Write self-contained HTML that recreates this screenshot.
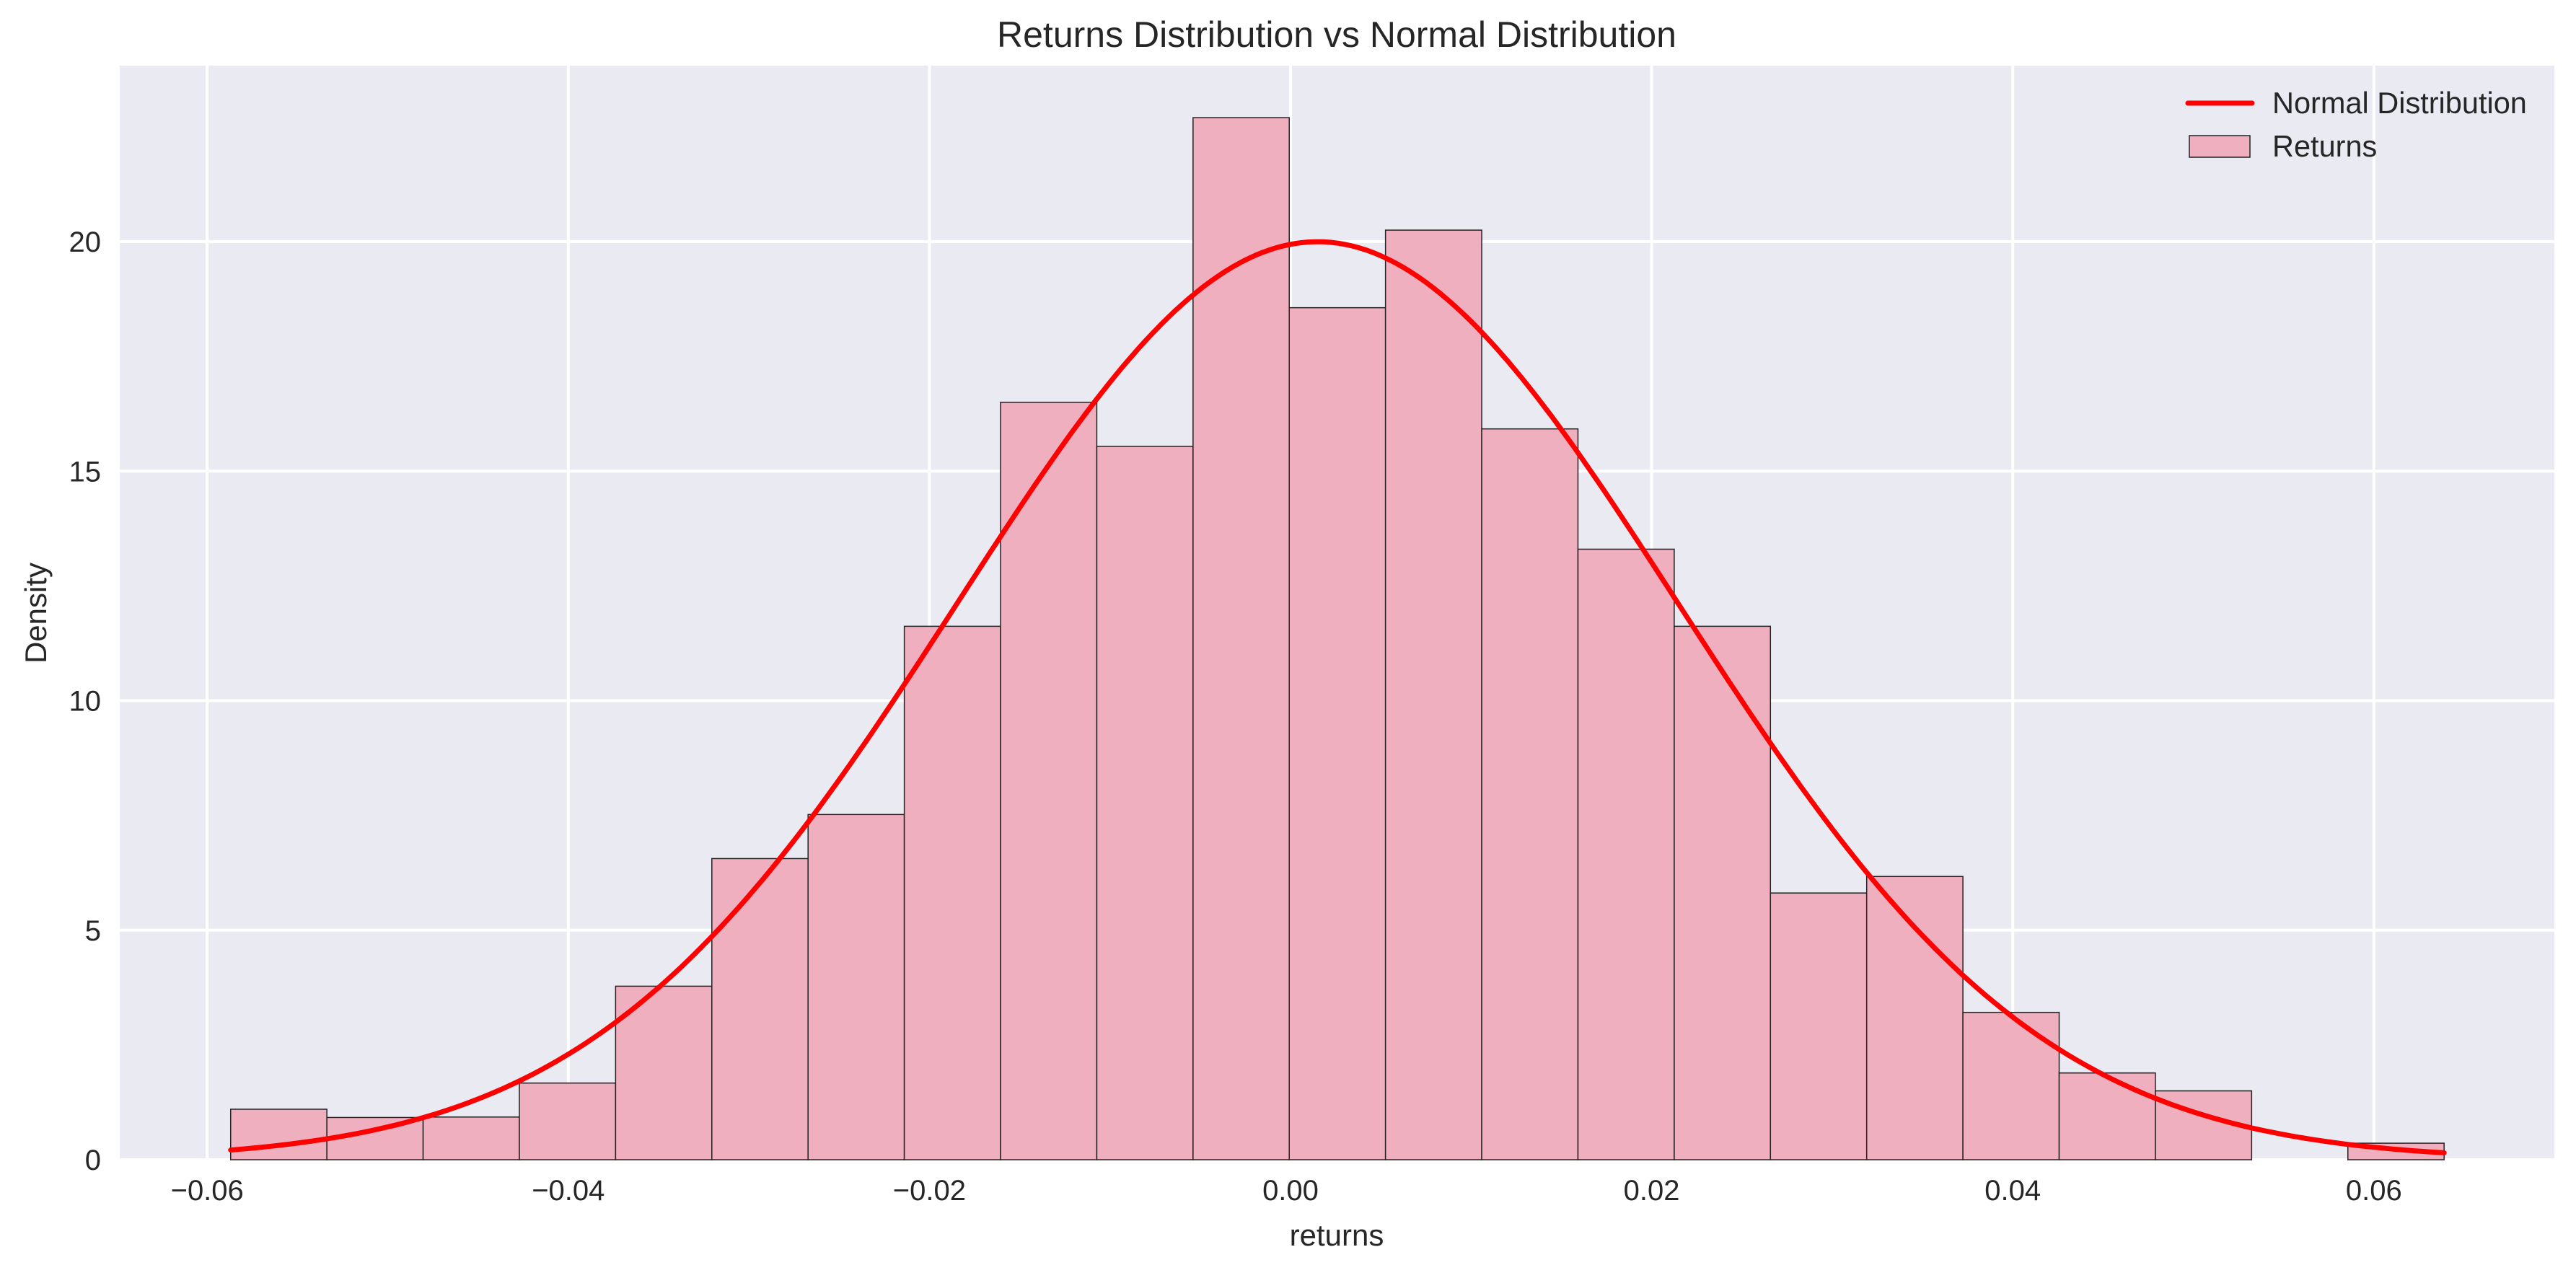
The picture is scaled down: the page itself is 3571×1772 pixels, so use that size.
<!DOCTYPE html>
<html><head><meta charset="utf-8"><style>
html,body{margin:0;padding:0;background:#fff;}
svg text{font-family:"Liberation Sans",sans-serif;fill:#262626;}
</style></head><body>
<svg id="chart" width="3571" height="1767" viewBox="0 0 3571 1767" xmlns="http://www.w3.org/2000/svg">
<rect x="166" y="91" width="3375" height="1517" fill="#eaeaf2"/>
<g id="grid"></g>
<g id="bars"></g>
<path id="curve" fill="none" stroke="#ff0000" stroke-width="7" stroke-linecap="round" stroke-linejoin="round"/>
<g id="ticks"></g>
<text x="1853" y="65" font-size="50" text-anchor="middle">Returns Distribution vs Normal Distribution</text>
<text x="1853" y="1727" font-size="42" text-anchor="middle">returns</text>
<text x="64" y="850" font-size="42" text-anchor="middle" transform="rotate(-90 64 850)">Density</text>
<g>
<line x1="3033" y1="143" x2="3122" y2="143" stroke="#ff0000" stroke-width="7" stroke-linecap="round"/>
<text x="3150" y="157" font-size="41.5">Normal Distribution</text>
<rect x="3035" y="188" width="84" height="30" fill="#f0afbe" stroke="#222" stroke-width="1.5"/>
<text x="3150" y="217" font-size="41.5">Returns</text>
</g>
</svg>
<script>
const binStart = -0.0587;
const binWidth = 0.00533;
const densities = [1.1,0.92,0.93,1.67,3.78,6.56,7.52,11.62,16.5,15.54,22.7,18.56,20.25,15.92,13.3,11.62,5.81,6.17,3.21,1.89,1.5,0,0.36];
const normMean = 0.0015;
const normStd = 0.01995;
const xTicks = [-0.06,-0.04,-0.02,0.00,0.02,0.04,0.06];
const xTickLabels = ["\u22120.06","\u22120.04","\u22120.02","0.00","0.02","0.04","0.06"];
const yTicks = [0,5,10,15,20];

const L=166,R=3541,T=91,B=1608;
const X = v => 1789 + v*25030;
const Y = v => B - v*63.65;
const NS="http://www.w3.org/2000/svg";
function mk(tag,attrs,parent){const e=document.createElementNS(NS,tag);for(const k in attrs)e.setAttribute(k,attrs[k]);parent.appendChild(e);return e;}
const grid=document.getElementById('grid'), ticks=document.getElementById('ticks'), bars=document.getElementById('bars');
xTicks.forEach((t,i)=>{
  const g=mk('line',{x1:X(t),x2:X(t),y1:T,y2:B,stroke:'#fff','stroke-width':4},grid);
  
  
  const tx=mk('text',{x:X(t),y:1664,'font-size':40,'text-anchor':'middle'},ticks);
  tx.textContent=xTickLabels[i];
  
  
});
yTicks.forEach(t=>{
  const g=mk('line',{x1:L,x2:R,y1:Y(t),y2:Y(t),stroke:'#fff','stroke-width':4},grid);
  
  
  const tx=mk('text',{x:140,y:Y(t)+14,'font-size':40,'text-anchor':'end'},ticks);
  tx.textContent=String(t);
  
  
});
densities.forEach((d,i)=>{
  if(d<=0) return;
  const x0=X(binStart+i*binWidth), x1=X(binStart+(i+1)*binWidth);
  const r=mk('rect',{x:x0,y:Y(d),width:x1-x0,height:B-Y(d),fill:'#f0afbe',stroke:'#222','stroke-width':1.5},bars);
  
  
});
let dstr='';
const x0=binStart, x1=binStart+densities.length*binWidth;
for(let k=0;k<=300;k++){
  const v=x0+(x1-x0)*k/300;
  const p=Math.exp(-0.5*((v-normMean)/normStd)**2)/(normStd*Math.sqrt(2*Math.PI));
  dstr+=(k?'L':'M')+X(v).toFixed(1)+','+Y(p).toFixed(1);
}
document.getElementById('curve').setAttribute('d',dstr);
</script>
</body></html>
